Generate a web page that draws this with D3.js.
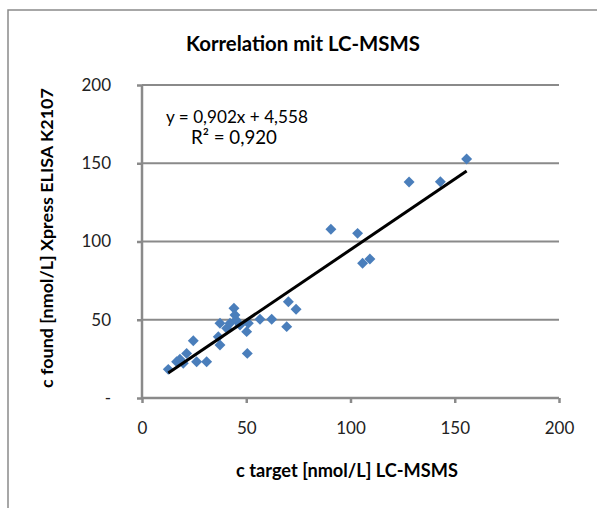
<!DOCTYPE html>
<meta charset="utf-8">
<html>
<head>
    <script src="https://cdn.jsdelivr.net/npm/d3@7"></script>
    <style>
        body { margin: 0; background: #fff; }
        text { font-family: Lato, "Open Sans", sans-serif; }
    </style>
</head>
<body>
    <script>
    // measured values, LC-MSMS (x) vs ELISA (y)
    var targetX = [12.6, 16.6, 18.2, 19.8, 21.4, 24.6, 26.2, 31.0, 36.6, 37.4, 37.4,
                   40.6, 42.2, 44.1, 44.6, 45.1, 47.0, 50.2, 51.0, 50.5, 56.6, 62.2,
                   69.4, 70.2, 73.9, 90.6, 103.4, 105.8, 109.3, 128.1, 143.1, 155.7];
    var foundY  = [18.3, 23.2, 24.7, 22.2, 28.5, 36.6, 23.2, 23.2, 39.2, 47.7, 33.9,
                   44.5, 47.7, 57.3, 53.0, 49.8, 46.6, 42.4, 47.7, 28.5, 50.3, 50.3,
                   45.6, 61.5, 56.7, 107.8, 105.2, 86.1, 88.8, 138.0, 138.2, 152.7];
    var xTicks = [0, 50, 100, 150, 200];
    var yTicks = [0, 50, 100, 150, 200];
    var slope = 0.902, intercept = 4.558;

    var svg = d3.select("body")
       .append("svg")
       .attr("width", 597)
       .attr("height", 508);

    // shrink/grow a text until it has the wanted width
    function fit(sel, w) {
        var len = sel.node().getComputedTextLength();
        var fs = parseFloat(sel.attr("font-size"));
        sel.attr("font-size", fs * w / len);
        return sel;
    }

    // outer chart frame
    svg.append("rect")
       .attr("x", 8).attr("y", 10)
       .attr("width", 620).attr("height", 520)
       .attr("fill", "none")
       .attr("stroke", "#8a8a8a")
       .attr("stroke-width", 1.5);

    var xScale = d3.scaleLinear().domain([0, 200]).range([142, 559]);
    var yScale = d3.scaleLinear().domain([0, 200]).range([398, 85]);

    // gridlines
    svg.selectAll(".grid")
       .data(yTicks.filter(function(d) { return d > 0; }))
       .enter()
       .append("line")
       .attr("x1", xScale(0)).attr("x2", xScale(200))
       .attr("y1", function(d) { return yScale(d); })
       .attr("y2", function(d) { return yScale(d); })
       .attr("stroke", "#8a8a8a")
       .attr("stroke-width", 2);

    var xAxis = d3.axisBottom(xScale).tickValues(xTicks).tickSize(5).tickPadding(19);
    var yAxis = d3.axisLeft(yScale).tickValues(yTicks).tickSize(5).tickPadding(26)
       .tickFormat(function(d) { return d === 0 ? "-" : d; });

    var gx = svg.append("g").attr("transform", "translate(0," + yScale(0) + ")").call(xAxis);
    var gy = svg.append("g").attr("transform", "translate(" + xScale(0) + ",0)").call(yAxis);

    [gx, gy].forEach(function(g) {
        g.select(".domain").attr("stroke", "#8a8a8a").attr("stroke-width", 2.5);
        g.selectAll(".tick line").attr("stroke", "#8a8a8a").attr("stroke-width", 2.5);
        g.selectAll(".tick text")
         .attr("font-family", "Lato, sans-serif")
         .attr("font-size", 17)
         .attr("fill", "#222");
    });
    gx.select(".domain").attr("d", "M" + xScale(0) + ",0H" + xScale(200));
    gy.select(".domain").attr("d", "M0," + yScale(0) + "V" + yScale(200));

    // points
    var data = targetX.map(function(x, i) { return { x: x, y: foundY[i] }; });
    svg.selectAll(".pt")
       .data(data)
       .enter()
       .append("path")
       .attr("d", d3.symbol().type(d3.symbolSquare).size(60))
       .attr("transform", function(d) {
           return "translate(" + xScale(d.x) + "," + yScale(d.y) + ") rotate(45)";
       })
       .attr("fill", "#4a7ebb");

    // trendline
    var xmin = d3.min(targetX), xmax = d3.max(targetX);
    svg.append("line")
       .attr("x1", xScale(xmin)).attr("y1", yScale(slope * xmin + intercept))
       .attr("x2", xScale(xmax)).attr("y2", yScale(slope * xmax + intercept))
       .attr("stroke", "#000")
       .attr("stroke-width", 3);

    // texts
    fit(svg.append("text")
       .attr("x", 303).attr("y", 51)
       .attr("text-anchor", "middle")
       .attr("font-size", 18).attr("font-weight", "bold")
       .text("Korrelation mit LC-MSMS"), 234);

    fit(svg.append("text")
       .attr("x", 166).attr("y", 123)
       .attr("font-size", 16)
       .text("y = 0,902x + 4,558"), 142);
    fit(svg.append("text")
       .attr("x", 191).attr("y", 144)
       .attr("font-size", 16)
       .text("R² = 0,920"), 86);

    fit(svg.append("text")
       .attr("x", 347).attr("y", 477)
       .attr("text-anchor", "middle")
       .attr("font-size", 15).attr("font-weight", "bold")
       .text("c target [nmol/L] LC-MSMS"), 222);

    fit(svg.append("text")
       .attr("transform", "translate(53,238) rotate(-90)")
       .attr("text-anchor", "middle")
       .attr("font-size", 15).attr("font-weight", "bold")
       .text("c found [nmol/L] Xpress ELISA K2107"), 300);
    </script>
</body>
</html>
